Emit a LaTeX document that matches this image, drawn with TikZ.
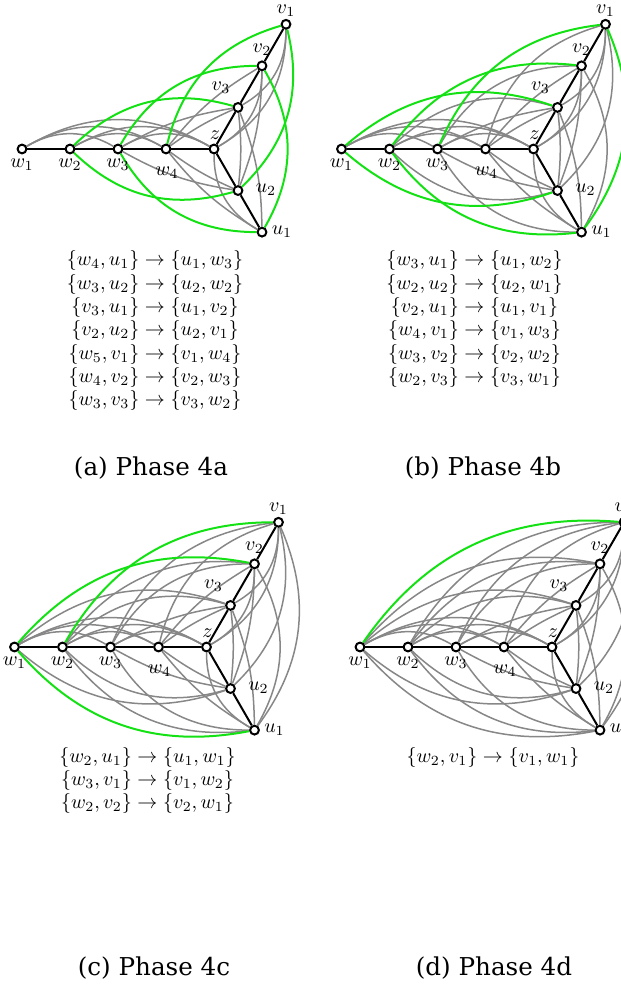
\documentclass[tikz,border=0pt]{standalone}
\usepackage{fontspec}
\newfontfamily\capfont{DejaVu Serif}
\definecolor{edgegreen}{RGB}{20,225,20}
\definecolor{edgegray}{RGB}{135,135,135}
\pgfdeclarelayer{bg}
\pgfsetlayers{bg,main}
\newcount\thr
\newcount\pass
\def\pf{}
\newcommand\XE[5]{%
  \ifnum\pass=0
    \ifnum#3<\thr \draw[gedge] (\pf#1) to[#4=#5] (\pf#2);\fi
  \else
    \ifnum#3=\thr \draw[nedge] (\pf#1) to[#4=#5] (\pf#2);\fi
  \fi}
\newcommand\AllEdges{%
 \XE{w1}{w3}{0}{bend left}{30}%
 \XE{w2}{w4}{0}{bend left}{30}%
 \XE{w3}{z}{0}{bend left}{30}%
 \XE{w1}{w4}{0}{bend left}{30}%
 \XE{w2}{z}{0}{bend left}{30}%
 \XE{w1}{z}{0}{bend left}{30}%
 \XE{z}{v2}{0}{bend right}{30}%
 \XE{v3}{v1}{0}{bend right}{30}%
 \XE{z}{v1}{0}{bend right}{30}%
 \XE{z}{u1}{0}{bend right}{30}%
 \XE{w4}{v3}{2}{bend left}{6}%
 \XE{w4}{v2}{3}{bend left}{10}%
 \XE{w3}{v3}{3}{bend left}{10}%
 \XE{w4}{v1}{4}{bend left}{30}%
 \XE{w3}{v2}{4}{bend left}{30}%
 \XE{w2}{v3}{4}{bend left}{30}%
 \XE{w3}{v1}{5}{bend left}{30}%
 \XE{w2}{v2}{5}{bend left}{30}%
 \XE{w1}{v3}{5}{bend left}{30}%
 \XE{w2}{v1}{6}{bend left}{30}%
 \XE{w1}{v2}{6}{bend left}{30}%
 \XE{w1}{v1}{7}{bend left}{30}%
 \XE{w4}{u2}{2}{bend right}{6}%
 \XE{w4}{u1}{3}{bend right}{10}%
 \XE{w3}{u2}{3}{bend right}{10}%
 \XE{w3}{u1}{4}{bend right}{30}%
 \XE{w2}{u2}{4}{bend right}{30}%
 \XE{w2}{u1}{5}{bend right}{30}%
 \XE{w1}{u2}{5}{bend right}{30}%
 \XE{w1}{u1}{6}{bend right}{30}%
 \XE{v3}{u2}{2}{bend left}{6}%
 \XE{v3}{u1}{3}{bend left}{10}%
 \XE{v2}{u2}{3}{bend left}{10}%
 \XE{v2}{u1}{4}{bend left}{30}%
 \XE{v1}{u2}{4}{bend left}{30}%
 \XE{v1}{u1}{5}{bend left}{30}%
}
\newcommand\Panel[4]{%
  \def\pf{#1}\thr=#4\relax
  \begin{scope}[shift={(#2,#3)}]
    \node[vtx] (#1z)  at (0,0) {};
    \node[vtx] (#1w4) at (-48,0) {};
    \node[vtx] (#1w3) at (-96,0) {};
    \node[vtx] (#1w2) at (-144,0) {};
    \node[vtx] (#1w1) at (-192,0) {};
    \node[vtx] (#1v3) at (24,41.57) {};
    \node[vtx] (#1v2) at (48,83.14) {};
    \node[vtx] (#1v1) at (72,124.71) {};
    \node[vtx] (#1u2) at (24,-41.57) {};
    \node[vtx] (#1u1) at (48,-83.14) {};
    \node[lbl] (#1lw1) at (-192,-16) {$w_1$};
    \node[lbl] (#1lw2) at (-144,-16) {$w_2$};
    \node[lbl] (#1lw3) at (-96,-16) {$w_3$};
    \node[lbl] (#1lw4) at (-47,-24) {$w_4$};
    \node[lbl] (#1lz)  at (1,14) {$z$};
    \node[lbl] (#1lv3) at (7,61) {$v_3$};
    \node[lbl] (#1lv2) at (48,99) {$v_2$};
    \node[lbl] (#1lv1) at (72,138) {$v_1$};
    \node[lbl] (#1lu2) at (52,-41) {$u_2$};
    \node[lbl] (#1lu1) at (68,-83) {$u_1$};
  \end{scope}
  \begin{pgfonlayer}{bg}
    \pass=0 \AllEdges
    \pass=1 \AllEdges
    \draw[tedge] (#1w1) -- (#1w2) -- (#1w3) -- (#1w4) -- (#1z);
    \draw[tedge] (#1z) -- (#1v3) -- (#1v2) -- (#1v1);
    \draw[tedge] (#1z) -- (#1u2) -- (#1u1);
  \end{pgfonlayer}
}
\begin{document}
\begin{tikzpicture}[x=0.5pt,y=0.5pt,
  vtx/.style={circle,draw=black,fill=white,line width=1pt,minimum size=4.4pt,inner sep=0pt},
  lbl/.style={inner sep=0pt,font=\fontsize{10}{12}\selectfont},
  gedge/.style={draw=edgegray,line width=0.75pt},
  nedge/.style={draw=edgegreen,line width=1pt},
  tedge/.style={draw=black,line width=1pt},
  flips/.style={align=center,inner sep=0pt,anchor=north,font=\fontsize{10}{11.65}\selectfont},
  capt/.style={inner sep=0pt,font=\capfont\fontsize{12.3}{14}\selectfont}]
\clip (0,0) rectangle (621,986);
\Panel{a}{214}{837}{4}
\Panel{b}{533.5}{837}{5}
\Panel{c}{206.5}{339}{6}
\Panel{d}{552}{339}{7}
\node[flips] (alist) at (155,735.5) {%
$\{w_4,u_1\}\rightarrow\{u_1,w_3\}$\\
$\{w_3,u_2\}\rightarrow\{u_2,w_2\}$\\
$\{v_3,u_1\}\rightarrow\{u_1,v_2\}$\\
$\{v_2,u_2\}\rightarrow\{u_2,v_1\}$\\
$\{w_5,v_1\}\rightarrow\{v_1,w_4\}$\\
$\{w_4,v_2\}\rightarrow\{v_2,w_3\}$\\
$\{w_3,v_3\}\rightarrow\{v_3,w_2\}$};
\node[flips] (blist) at (474.5,735.5) {%
$\{w_3,u_1\}\rightarrow\{u_1,w_2\}$\\
$\{w_2,u_2\}\rightarrow\{u_2,w_1\}$\\
$\{v_2,u_1\}\rightarrow\{u_1,v_1\}$\\
$\{w_4,v_1\}\rightarrow\{v_1,w_3\}$\\
$\{w_3,v_2\}\rightarrow\{v_2,w_2\}$\\
$\{w_2,v_3\}\rightarrow\{v_3,w_1\}$};
\node[flips] (clist) at (147.5,239) {%
$\{w_2,u_1\}\rightarrow\{u_1,w_1\}$\\
$\{w_3,v_1\}\rightarrow\{v_1,w_2\}$\\
$\{w_2,v_2\}\rightarrow\{v_2,w_1\}$};
\node[flips] (dlist) at (493,239) {%
$\{w_2,v_1\}\rightarrow\{v_1,w_1\}$};
\node[capt] (acap) at (151,518) {(a) Phase 4a};
\node[capt] (bcap) at (483,518) {(b) Phase 4b};
\node[capt] (ccap) at (154,18) {(c) Phase 4c};
\node[capt] (dcap) at (494,18) {(d) Phase 4d};
\end{tikzpicture}
\end{document}
